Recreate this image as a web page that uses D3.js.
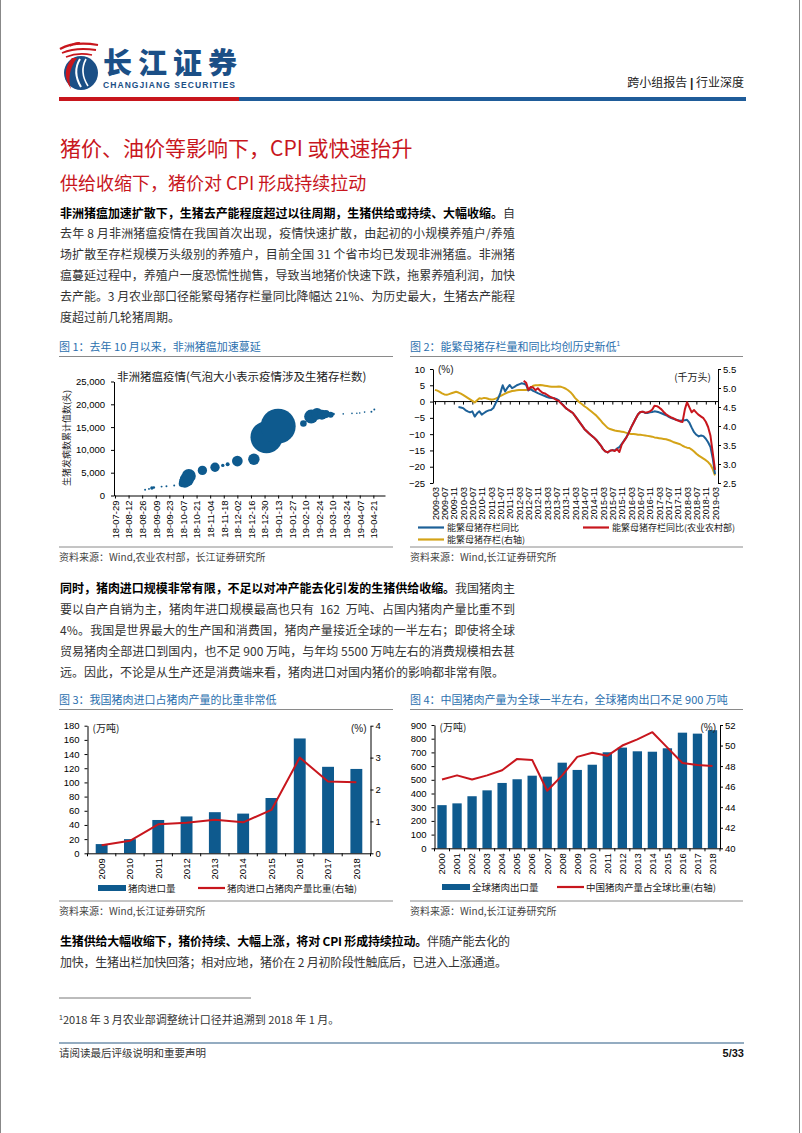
<!DOCTYPE html>
<html>
<head>
<meta charset="utf-8">
<script src="https://cdn.jsdelivr.net/npm/d3@7"></script>
<style>
  body { margin: 0; background: #fff; }
  svg text { white-space: pre; }
</style>
</head>
<body>
<svg id="page" width="802" height="1133"></svg>
<script>
// ---------- chart 1: ASF outbreaks (bubble) ----------
const outbreakDates = ["2018-08-29","2018-09-02","2018-09-05","2018-09-07","2018-09-15","2018-09-20","2018-09-28",
  "2018-10-06","2018-10-09","2018-10-11","2018-10-13","2018-10-27","2018-11-09","2018-11-17","2018-11-22",
  "2018-12-02","2018-12-19","2019-01-01","2019-01-13","2019-02-08","2019-02-16","2019-02-22","2019-02-27",
  "2019-03-03","2019-03-08","2019-03-11","2019-03-21","2019-03-30","2019-04-04","2019-04-07","2019-04-12",
  "2019-04-19","2019-04-22"];
const outbreakCum = [1250,1450,1650,1750,1950,2050,2200,2550,3000,3500,4300,5500,6200,6600,6850,7550,7950,
  12800,15200,15800,17300,17900,17700,17850,17700,17850,17900,18000,18050,18100,18300,18350,18850];
const outbreakHerd = [0.7,0.7,2.1,1.2,0.7,0.7,0.7,8,26,36,36,16,16,2.1,2.9,21,24,188,225,8,36,26,18,12,6.6,
  1.2,0.2,0.4,0.4,0.4,0.5,0.7,0.7];
const weekLabels = ["18-07-29","18-08-12","18-08-26","18-09-09","18-09-23","18-10-07","18-10-21","18-11-04",
  "18-11-18","18-12-02","18-12-16","18-12-30","19-01-13","19-01-27","19-02-10","19-02-24","19-03-10",
  "19-03-24","19-04-07","19-04-21"];
const cumTicks = [0,5000,10000,15000,20000,25000];

// ---------- chart 2: breeding sows ----------
const sowMonthLabels = ["2009-03","2009-07","2009-11","2010-03","2010-07","2010-11","2011-03","2011-07",
  "2011-11","2012-03","2012-07","2012-11","2013-03","2013-07","2013-11","2014-03","2014-07","2014-11",
  "2015-03","2015-07","2015-11","2016-03","2016-07","2016-11","2017-03","2017-07","2017-11","2018-03",
  "2018-07","2018-11","2019-03"];
// 能繁母猪存栏 (千万头), monthly from 2009-03
const sowStock = [4.95,4.93,4.90,4.86,4.83,4.82,4.84,4.86,4.88,4.90,4.88,4.85,
  4.82,4.78,4.74,4.70,4.66,4.62,4.68,4.73,4.72,4.74,4.73,4.71,
  4.70,4.70,4.72,4.75,4.79,4.82,4.85,4.88,4.90,4.92,4.93,4.94,
  4.95,4.95,4.95,4.95,4.96,5.00,5.06,5.07,5.07,5.08,5.07,5.06,
  5.05,5.04,5.03,5.03,5.03,5.04,5.03,5.01,4.98,4.94,4.89,4.82,
  4.74,4.68,4.62,4.57,4.52,4.48,4.43,4.38,4.33,4.28,4.21,4.14,
  4.07,4.01,3.95,3.92,3.90,3.88,3.87,3.86,3.85,3.84,3.82,3.80,
  3.79,3.79,3.78,3.77,3.77,3.76,3.75,3.74,3.73,3.72,3.70,3.69,
  3.68,3.67,3.66,3.65,3.63,3.61,3.58,3.56,3.54,3.52,3.48,3.45,
  3.43,3.42,3.38,3.33,3.27,3.22,3.18,3.14,3.10,3.05,2.98,2.86,
  2.70];
// 能繁母猪存栏同比 (%), monthly from 2010-01
const sowYoYStart = "2010-01";
const sowYoY = [-1.7,-1.8,-2.0,-2.6,-3.0,-3.3,-3.0,-4.6,-3.6,-3.0,-4.0,-3.5,
  -3.0,-2.7,-2.6,-2.0,-0.5,0.8,2.6,5.0,3.1,4.2,5.1,4.1,
  4.5,5.0,5.3,5.6,5.5,5.1,3.4,3.8,3.3,3.0,2.6,2.3,
  2.0,1.7,1.4,1.2,1.1,1.0,0.8,0.4,-0.4,-1.2,-2.0,-2.5,
  -3.0,-3.5,-4.4,-5.4,-6.4,-7.4,-8.4,-9.1,-9.8,-10.4,-11.0,-11.7,
  -12.6,-13.5,-14.6,-15.3,-15.6,-15.1,-14.9,-15.0,-14.4,-14.0,-13.0,-12.0,
  -10.9,-9.5,-8.0,-6.6,-5.2,-3.9,-3.2,-3.1,-3.5,-3.5,-3.3,-3.2,
  -3.0,-3.1,-3.3,-3.6,-3.9,-4.2,-4.6,-5.0,-5.3,-5.5,-5.7,-5.9,
  -5.8,-5.7,-5.6,-6.5,-8.0,-9.4,-10.2,-10.7,-10.4,-10.6,-11.4,-12.5,
  -14.0,-17.6,-22.3];
// 能繁母猪存栏同比 (农业农村部, %), monthly from 2012-05
const sowMoaStart = "2012-05";
const sowYoYMoa = [6.4,5.8,3.6,4.5,4.3,3.5,4.1,3.3,2.7,2.5,
  2.1,1.6,1.3,1.0,0.5,0.2,-0.6,-1.2,-2.0,-2.5,-3.0,-3.5,
  -4.4,-5.4,-6.4,-7.4,-8.4,-9.1,-9.8,-10.4,-11.0,-11.7,-12.6,-13.5,
  -14.6,-15.3,-15.6,-15.1,-14.9,-15.2,-14.6,-15.5,-13.2,-12.1,-11.0,-9.6,
  -8.0,-6.6,-5.2,-3.9,-3.2,-3.1,-3.4,-3.3,-3.0,-2.5,-1.3,-1.4,
  -1.8,-2.4,-3.2,-3.9,-4.4,-4.8,-5.1,-5.5,-5.8,-6.1,-6.3,-2.4,
  -0.2,-1.8,-3.3,-2.6,-3.4,-4.1,-4.6,-5.1,-6.2,-7.8,-10.5,-16.0,
  -21.0];
const sowLeftTicks = [-25,-20,-15,-10,-5,0,5,10];
const sowRightTicks = [2.5,3.0,3.5,4.0,4.5,5.0,5.5];

// ---------- chart 3: pork imports ----------
const importYears = ["2009","2010","2011","2012","2013","2014","2015","2016","2017","2018"];
const importVolume = [13,20,47,52,58,56,78,162,122,119];
const importShare = [0.25,0.39,0.91,0.96,1.05,0.97,1.36,3.0,2.25,2.23];
const importLeftTicks = [0,20,40,60,80,100,120,140,160,180];
const importRightTicks = [0,1,2,3,4];

// ---------- chart 4: global pork exports ----------
const exportYears = ["2000","2001","2002","2003","2004","2005","2006","2007","2008","2009",
  "2010","2011","2012","2013","2014","2015","2016","2017","2018"];
const exportVolume = [315,328,380,423,477,504,530,523,625,572,610,701,735,708,705,730,844,837,862];
const chinaShare = [46.7,47.1,46.7,47.1,47.6,48.7,48.6,45.6,47.1,48.9,49.3,49.0,50.0,50.6,51.3,49.8,48.3,48.1,48.0];
const exportLeftTicks = [0,100,200,300,400,500,600,700,800,900];
const exportRightTicks = [40,42,44,46,48,50,52];

// ---------- styling ----------
const CJK = '"Noto Sans CJK SC", "Noto Sans", sans-serif';
const NUM = '"Liberation Sans", Arial, sans-serif';
const BLUE = "#0e5a8e", RED = "#c8161d", GOLD = "#d4a317", LINEBLUE = "#1d6198", TBLUE = "#2b6fae";
const svg = d3.select("#page");

function txt(x, y, s, size, fill, opts) {
  opts = opts || {};
  return svg.append("text").attr("x", x).attr("y", y).text(s)
    .attr("font-size", size).attr("fill", fill)
    .attr("font-family", opts.family || CJK)
    .attr("font-weight", opts.weight || 400)
    .attr("text-anchor", opts.anchor || "start");
}
function hline(x1, x2, y, color, w) {
  svg.append("line").attr("x1", x1).attr("x2", x2).attr("y1", y).attr("y2", y)
    .attr("stroke", color).attr("stroke-width", w || 1);
}
function styleAxis(g, size) {
  g.attr("font-family", NUM).attr("font-size", size);
  g.selectAll("path,line").attr("stroke", "#000");
  g.selectAll("text").attr("fill", "#000");
  return g;
}
function rotateLabels(g, off) {
  g.selectAll("text").attr("transform", "rotate(-90)").attr("text-anchor", "end")
    .attr("x", -off).attr("y", 0).attr("dy", "0.35em");
}

// page edges
svg.append("line").attr("x1", 0.5).attr("x2", 0.5).attr("y1", 0).attr("y2", 1133).attr("stroke", "#888");
svg.append("line").attr("x1", 799.5).attr("x2", 799.5).attr("y1", 0).attr("y2", 1133).attr("stroke", "#888");

// ---------- header ----------
const logo = svg.append("g");
logo.append("ellipse").attr("cx", 81).attr("cy", 73).attr("rx", 17).attr("ry", 17).attr("fill", "#1b4f86");
logo.append("path").attr("d", "M72,58 Q60,73 71,89 Q66,73 77,58 Z").attr("fill", RED);
logo.append("path").attr("d", "M80,59 Q72,72 81,87").attr("fill", "none").attr("stroke", "#fff").attr("stroke-width", 2);
logo.append("path").attr("d", "M86,59 Q79,72 88,86").attr("fill", "none").attr("stroke", "#fff").attr("stroke-width", 1.6);
[["M60,49 Q74,41 98,45", 2.2], ["M62,53 Q76,47 96,50", 1.8], ["M66,57 Q78,52 92,55", 1.6], ["M70,46 Q76,42 80,43", 1.6]]
  .forEach(p => logo.append("path").attr("d", p[0]).attr("fill", "none").attr("stroke", RED).attr("stroke-width", p[1]));
txt(103, 74, "长江证券", 29, "#1b4f86", { weight: 900 }).attr("textLength", 134).attr("lengthAdjust", "spacing");
txt(103, 88, "CHANGJIANG SECURITIES", 8.5, "#1b4f86", { family: NUM, weight: 700 })
  .attr("textLength", 132).attr("lengthAdjust", "spacing");
const rh = txt(744, 87, "", 12, "#222", { anchor: "end" });
rh.append("tspan").text("跨小组报告 ");
rh.append("tspan").text("|").attr("font-weight", 700).attr("font-family", NUM);
rh.append("tspan").text(" 行业深度");
svg.append("rect").attr("x", 59).attr("y", 97).attr("width", 180).attr("height", 4).attr("fill", RED);
svg.append("rect").attr("x", 239).attr("y", 97).attr("width", 507).attr("height", 4).attr("fill", "#1f5c99");

txt(60, 156, "猪价、油价等影响下，CPI 或快速抬升", 21, RED);
txt(60, 190, "供给收缩下，猪价对 CPI 形成持续拉动", 18, RED);

// ---------- paragraphs ----------
function para(lines, y0, lh) {
  lines.forEach((ln, i) => {
    const t = svg.append("text").attr("x", 60).attr("y", y0 + i * lh)
      .attr("font-size", 12).attr("font-family", CJK);
    ln[0].forEach(s => t.append("tspan").text(s[0])
      .attr("font-weight", s[1] ? 700 : 400).attr("fill", s[1] ? "#000" : "#333"));
    if (ln[1]) t.attr("textLength", ln[1]).attr("lengthAdjust", "spacing");
  });
}
para([
  [[["非洲猪瘟加速扩散下，生猪去产能程度超过以往周期，生猪供给或持续、大幅收缩。", 1], ["自", 0]], 455],
  [[["去年 8 月非洲猪瘟疫情在我国首次出现，疫情快速扩散，由起初的小规模养殖户/养殖", 0]], 455],
  [[["场扩散至存栏规模万头级别的养殖户，目前全国 31 个省市均已发现非洲猪瘟。非洲猪", 0]], 455],
  [[["瘟蔓延过程中，养殖户一度恐慌性抛售，导致当地猪价快速下跌，拖累养殖利润，加快", 0]], 455],
  [[["去产能。3 月农业部口径能繁母猪存栏量同比降幅达 21%、为历史最大，生猪去产能程", 0]], 455],
  [[["度超过前几轮猪周期。", 0]], 0]
], 217.5, 20.8);
para([
  [[["同时，猪肉进口规模非常有限，不足以对冲产能去化引发的生猪供给收缩。", 1], ["我国猪肉主", 0]], 455],
  [[["要以自产自销为主，猪肉年进口规模最高也只有  162  万吨、占国内猪肉产量比重不到", 0]], 455],
  [[["4%。我国是世界最大的生产国和消费国，猪肉产量接近全球的一半左右；即使将全球", 0]], 455],
  [[["贸易猪肉全部进口到国内，也不足 900 万吨，与年均 5500 万吨左右的消费规模相去甚", 0]], 455],
  [[["远。因此，不论是从生产还是消费端来看，猪肉进口对国内猪价的影响都非常有限。", 0]], 0]
], 592.5, 21.2);
para([
  [[["生猪供给大幅收缩下，猪价持续、大幅上涨，将对 CPI 形成持续拉动。", 1], ["伴随产能去化的", 0]], 450],
  [[["加快，生猪出栏加快回落；相对应地，猪价在 2 月初阶段性触底后，已进入上涨通道。", 0]], 447]
], 946, 20.5);

// ---------- figure frames ----------
function figFrame(x1, x2, yTitle, yBottom, title, source, sup) {
  const t = txt(x1, yTitle + 4, title, 11, TBLUE);
  if (sup) t.append("tspan").text(sup).attr("font-size", 6.5).attr("dy", -5).attr("font-family", NUM);
  hline(x1, x2, yTitle + 9.5, "#8a8a8a", 1);
  hline(x1, x2, yBottom, "#8a8a8a", 1);
  txt(x1, yBottom + 14, source, 10, "#444");
}
figFrame(59, 393, 347, 547, "图 1：去年 10 月以来，非洲猪瘟加速蔓延", "资料来源：Wind,农业农村部，长江证券研究所");
figFrame(410, 743, 347, 547, "图 2：能繁母猪存栏量和同比均创历史新低", "资料来源：Wind,长江证券研究所", "1");
figFrame(59, 393, 700, 901, "图 3：我国猪肉进口占猪肉产量的比重非常低", "资料来源：Wind,长江证券研究所");
figFrame(410, 743, 700, 901, "图 4：中国猪肉产量为全球一半左右，全球猪肉出口不足 900 万吨", "资料来源：Wind,长江证券研究所");

// ---------- chart 1 ----------
const pDay = d3.timeParse("%Y-%m-%d"), pWeek = d3.timeParse("%y-%m-%d");
const c1x = d3.scaleTime().domain([pDay("2018-07-28"), pDay("2019-05-03")]).range([114, 385]);
const c1y = d3.scaleLinear().domain([0, 25000]).range([495.5, 381.5]);
const c1r = d3.scaleSqrt().domain([0, 225]).range([0, 17.5]);
txt(117, 380.5, "非洲猪瘟疫情(气泡大小表示疫情涉及生猪存栏数)", 11.5, "#222");
svg.append("text").attr("transform", "translate(67,438) rotate(-90)").attr("text-anchor", "middle")
  .attr("dy", "0.35em").attr("font-size", 9).attr("font-family", CJK).attr("fill", "#222")
  .text("生猪发病数累计值数(头)");
const c1bubbles = outbreakDates.map((d, i) => ({ date: pDay(d), cum: outbreakCum[i], herd: outbreakHerd[i] }));
svg.append("g").selectAll("circle").data(c1bubbles).join("circle")
  .attr("cx", d => c1x(d.date)).attr("cy", d => c1y(d.cum)).attr("r", d => Math.max(0.8, c1r(d.herd)))
  .attr("fill", BLUE);
styleAxis(svg.append("g").attr("transform", "translate(114,0)")
  .call(d3.axisLeft(c1y).tickValues(cumTicks).tickFormat(d3.format(",")).tickSize(3).tickPadding(6).tickSizeOuter(0)), 9.5);
const c1ax = styleAxis(svg.append("g").attr("transform", "translate(0,495.5)")
  .call(d3.axisBottom(c1x).tickValues(weekLabels.map(pWeek)).tickFormat(d3.timeFormat("%y-%m-%d")).tickSize(3).tickSizeOuter(0)), 9.5);
rotateLabels(c1ax, 5);

// ---------- chart 2 ----------
const pMonth = d3.timeParse("%Y-%m");
const c2x = d3.scaleTime().domain([pMonth("2009-03"), pMonth("2019-03")]).range([435, 715]);
const c2yL = d3.scaleLinear().domain([-25, 10]).range([483, 369]);
const c2yR = d3.scaleLinear().domain([2.5, 5.5]).range([483, 369]);
styleAxis(svg.append("g").attr("transform", "translate(433,0)")
  .call(d3.axisLeft(c2yL).tickValues(sowLeftTicks).tickFormat(d3.format("d")).tickSize(3).tickPadding(5).tickSizeOuter(0)), 9.5);
styleAxis(svg.append("g").attr("transform", "translate(718,0)")
  .call(d3.axisRight(c2yR).tickValues(sowRightTicks).tickFormat(d3.format(".1f")).tickSize(3).tickPadding(2).tickSizeOuter(0)), 9.5);
const c2zero = styleAxis(svg.append("g").attr("transform", `translate(0,${c2yL(0)})`)
  .call(d3.axisBottom(c2x).tickValues(sowMonthLabels.map(pMonth)).tickFormat("").tickSize(3).tickSizeOuter(0)), 9);
c2zero.select(".domain").remove();
hline(433, 718, c2yL(0), "#000", 1);
const c2lab = styleAxis(svg.append("g").attr("transform", "translate(0,483)")
  .call(d3.axisBottom(c2x).tickValues(sowMonthLabels.map(pMonth)).tickFormat(d3.timeFormat("%Y-%m")).tickSize(0)), 9);
c2lab.select(".domain").remove();
rotateLabels(c2lab, 4);
txt(438, 372.5, "(%)", 10, "#222", { family: NUM });
txt(711, 381, "(千万头)", 10, "#222", { anchor: "end" });
function monthLine(start, values, yScale, color) {
  const s = pMonth(start);
  svg.append("path").datum(values)
    .attr("d", d3.line().x((d, i) => c2x(d3.timeMonth.offset(s, i))).y(d => yScale(d)))
    .attr("fill", "none").attr("stroke", color).attr("stroke-width", 2).attr("stroke-linejoin", "round");
}
monthLine("2009-03", sowStock, c2yR, GOLD);
monthLine(sowYoYStart, sowYoY, c2yL, LINEBLUE);
monthLine(sowMoaStart, sowYoYMoa, c2yL, RED);
function legLine(x, y, color, label, w) {
  hline(x, x + (w || 26), y, color, 2.2);
  txt(x + (w || 26) + 3, y + 3.2, label, 9, "#222");
}
legLine(418, 527.5, LINEBLUE, "能繁母猪存栏同比");
legLine(583, 527.5, RED, "能繁母猪存栏同比(农业农村部)");
legLine(418, 539.5, GOLD, "能繁母猪存栏(右轴)");

// ---------- bar + line charts ----------
function barLine(cfg) {
  const x = d3.scaleBand().domain(cfg.cats).range([cfg.x0, cfg.x1]).paddingInner(cfg.pad).paddingOuter(cfg.pad / 2);
  const yL = d3.scaleLinear().domain(cfg.lDom).range([cfg.yb, cfg.yt]);
  const yR = d3.scaleLinear().domain(cfg.rDom).range([cfg.yb, cfg.yt]);
  svg.append("g").selectAll("rect").data(cfg.bars).join("rect")
    .attr("x", (d, i) => x(cfg.cats[i])).attr("width", x.bandwidth())
    .attr("y", d => yL(d)).attr("height", d => cfg.yb - yL(d)).attr("fill", BLUE);
  svg.append("path").datum(cfg.line)
    .attr("d", d3.line().x((d, i) => x(cfg.cats[i]) + x.bandwidth() / 2).y(d => yR(d)))
    .attr("fill", "none").attr("stroke", RED).attr("stroke-width", 2).attr("stroke-linejoin", "round");
  styleAxis(svg.append("g").attr("transform", `translate(${cfg.x0},0)`)
    .call(d3.axisLeft(yL).tickValues(cfg.lTicks).tickFormat(d3.format("d")).tickSize(3).tickPadding(5).tickSizeOuter(0)), 9.5);
  styleAxis(svg.append("g").attr("transform", `translate(${cfg.x1},0)`)
    .call(d3.axisRight(yR).tickValues(cfg.rTicks).tickFormat(d3.format("d")).tickSize(3).tickPadding(2).tickSizeOuter(0)), 9.5);
  const ax = styleAxis(svg.append("g").attr("transform", `translate(0,${cfg.yb})`)
    .call(d3.axisBottom(x).tickSize(0).tickSizeOuter(0)), 9.5);
  rotateLabels(ax, 5);
  const step = x.step();
  d3.range(cfg.cats.length + 1).forEach(i => {
    const xx = cfg.x0 + i * step;
    svg.append("line").attr("x1", xx).attr("x2", xx).attr("y1", cfg.yb).attr("y2", cfg.yb + 3).attr("stroke", "#000");
  });
  txt(cfg.x0 + 5, cfg.yt + 6, "(万吨)", 10, "#222");
  txt(cfg.x1 - 4, cfg.yt + 6, "(%)", 10, "#222", { family: NUM, anchor: "end" });
  svg.append("rect").attr("x", cfg.legX).attr("y", cfg.legY - 3).attr("width", 28).attr("height", 6).attr("fill", BLUE);
  txt(cfg.legX + 30, cfg.legY + 3.5, cfg.barName, 9.5, "#222");
  hline(cfg.legX2, cfg.legX2 + 27, cfg.legY, RED, 2.2);
  txt(cfg.legX2 + 29, cfg.legY + 3.5, cfg.lineName, 9.5, "#222");
}
barLine({
  cats: importYears, bars: importVolume, line: importShare,
  x0: 87.5, x1: 370.5, yb: 853.3, yt: 725.7, pad: 0.58,
  lDom: [0, 180], rDom: [0, 4], lTicks: importLeftTicks, rTicks: importRightTicks,
  legX: 98, legX2: 198, legY: 888, barName: "猪肉进口量", lineName: "猪肉进口占猪肉产量比重(右轴)"
});
barLine({
  cats: exportYears, bars: exportVolume, line: chinaShare,
  x0: 434.5, x1: 720, yb: 848.3, yt: 725, pad: 0.38,
  lDom: [0, 900], rDom: [40, 52], lTicks: exportLeftTicks, rTicks: exportRightTicks,
  legX: 442, legX2: 557, legY: 887, barName: "全球猪肉出口量", lineName: "中国猪肉产量占全球比重(右轴)"
});

// ---------- footnote & footer ----------
hline(59, 251, 998, "#555", 0.8);
const fn = txt(59, 1024, "", 11, "#333");
fn.append("tspan").text("1").attr("font-size", 7).attr("dy", -4).attr("font-family", NUM);
fn.append("tspan").text("2018 年 3 月农业部调整统计口径并追溯到 2018 年 1 月。").attr("dy", 4);
hline(59, 744, 1043, "#2b5b84", 1.2);
txt(59, 1057, "请阅读最后评级说明和重要声明", 10.5, "#333");
txt(744, 1057, "5/33", 11, "#111", { family: NUM, weight: 700, anchor: "end" });
</script>
</body>
</html>
